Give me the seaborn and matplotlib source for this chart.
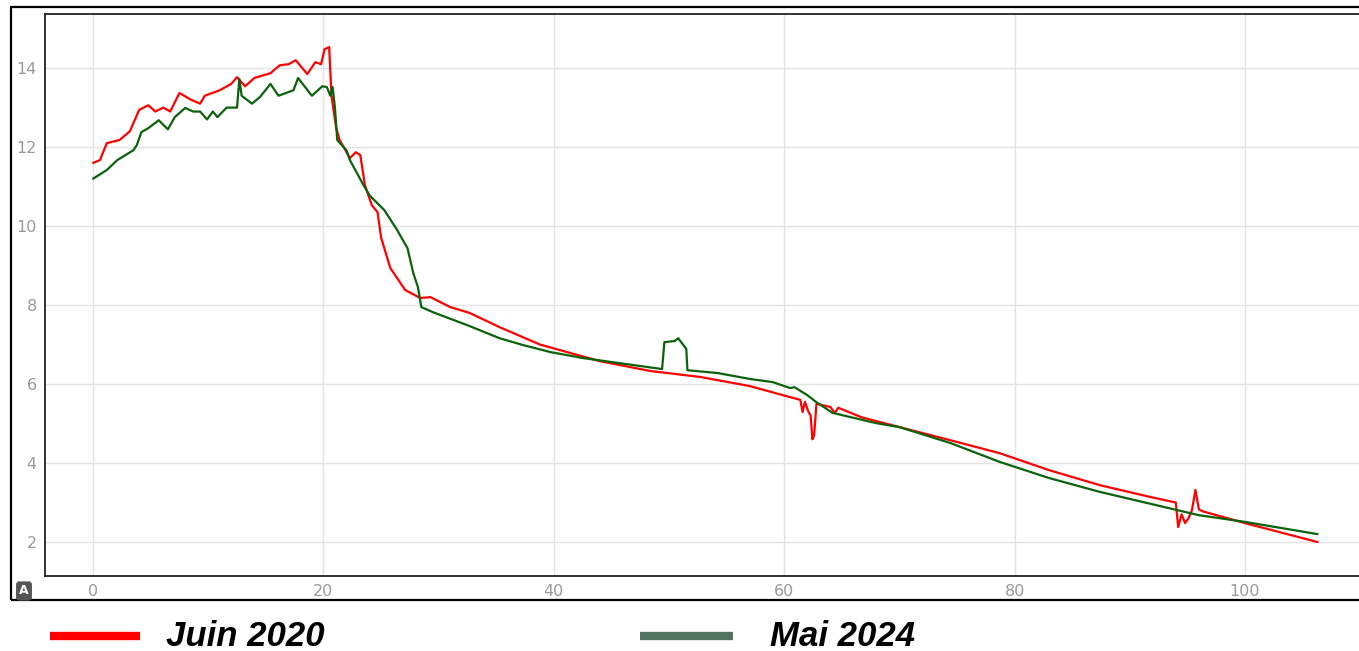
import numpy as np
import pandas as pd
import seaborn as sns
import matplotlib.pyplot as plt
from matplotlib.lines import Line2D
from matplotlib.patches import Rectangle

# -------------------------------
#  Datos
# -------------------------------
red_x = [0, 0.6, 1.2, 2.3, 3.2, 4.0, 4.8, 5.4, 6.1, 6.7, 7.5, 8.5, 9.3, 9.7, 11.0, 12.0,
         12.5, 13.2, 14.0, 15.4, 16.2, 17.0, 17.6, 18.6, 19.3, 19.8, 20.1, 20.5, 20.7, 21.1,
         21.4, 22.3, 22.8, 23.2, 23.6, 24.2, 24.7, 25.0, 25.8, 27.1, 28.4, 29.3, 31.0, 32.7,
         35.3, 38.8, 44.0, 48.4, 52.7, 57.0, 60.5, 61.4, 61.6, 61.8, 62.1, 62.3, 62.45, 62.6,
         62.8, 64.0, 64.4, 64.7, 66.7, 70.0, 74.4, 78.7, 83.0, 87.4, 91.8, 94.0, 94.2, 94.5,
         94.8, 95.1, 95.4, 95.7, 96.0, 96.3, 100.0, 106.3]
red_y = [11.6, 11.67, 12.1, 12.18, 12.4, 12.94, 13.06, 12.9, 13.0, 12.9, 13.37, 13.2, 13.1,
         13.3, 13.44, 13.6, 13.77, 13.54, 13.75, 13.87, 14.07, 14.1, 14.2, 13.85, 14.15, 14.1,
         14.48, 14.53, 13.3, 12.5, 12.18, 11.72, 11.87, 11.8, 11.04, 10.53, 10.35, 9.72, 8.94,
         8.38, 8.18, 8.2, 7.95, 7.8, 7.44, 7.0, 6.58, 6.33, 6.18, 5.95, 5.67, 5.6, 5.29, 5.55,
         5.3, 5.2, 4.6, 4.7, 5.5, 5.42, 5.27, 5.4, 5.16, 4.91, 4.58, 4.25, 3.82, 3.44, 3.14,
         3.0, 2.38, 2.7, 2.48, 2.6, 2.81, 3.32, 2.83, 2.78, 2.48, 2.0]

green_x = [0, 1.2, 2.1, 3.5, 3.8, 4.2, 4.8, 5.7, 6.5, 7.1, 8.0, 8.7, 9.3, 9.9, 10.4, 10.8,
           11.6, 12.5, 12.7, 12.9, 13.8, 14.5, 15.4, 16.1, 17.4, 17.8, 19.0, 19.9, 20.3, 20.6,
           20.8, 21.0, 21.2, 22.0, 22.3, 23.4, 24.0, 25.3, 26.4, 27.3, 27.8, 28.2, 28.5, 29.5,
           32.5, 35.3, 37.3, 39.7, 42.5, 45.7, 49.4, 49.6, 50.5, 50.8, 51.5, 51.6, 54.2, 57.0,
           59.0, 60.5, 60.9, 62.0, 62.8, 64.2, 68.0, 70.0, 74.4, 78.7, 83.0, 87.4, 94.1, 96.0,
           100.0, 106.3]
green_y = [11.2, 11.42, 11.67, 11.92, 12.05, 12.38, 12.48, 12.68, 12.45, 12.76, 12.99, 12.9,
           12.9, 12.7, 12.9, 12.76, 13.0, 13.0, 13.72, 13.3, 13.1, 13.27, 13.6, 13.3, 13.44,
           13.75, 13.3, 13.54, 13.52, 13.3, 13.52, 13.0, 12.18, 11.92, 11.67, 11.08, 10.78,
           10.4, 9.9, 9.44, 8.81, 8.46, 7.95, 7.82, 7.49, 7.16, 6.99, 6.81, 6.66, 6.53, 6.38,
           7.06, 7.09, 7.16, 6.89, 6.35, 6.28, 6.13, 6.05, 5.9, 5.92, 5.72, 5.54, 5.27, 5.01,
           4.91, 4.51, 4.03, 3.62, 3.27, 2.81, 2.68, 2.51, 2.2]

x_ticks = [0, 20, 40, 60, 80, 100]
y_ticks = [2, 4, 6, 8, 10, 12, 14]
series_labels = ["Juin 2020", "Mai 2024"]

df = pd.concat([
    pd.DataFrame({"x": red_x, "y": red_y, "serie": series_labels[0]}),
    pd.DataFrame({"x": green_x, "y": green_y, "serie": series_labels[1]}),
])

# -------------------------------
#  Figura
# -------------------------------
sns.set_style("white")
plt.rcParams["font.family"] = ["DejaVu Sans"]

fig = plt.figure(figsize=(13.59, 6.51), dpi=100)
ax = fig.add_axes([45 / 1359, 75 / 651, 1 - 45 / 1359, 562 / 651])

sns.lineplot(data=df, x="x", y="y", hue="serie", sort=False, estimator=None,
             palette={"Juin 2020": "#ff0000", "Mai 2024": "#0a620a"},
             linewidth=1.6, legend=False, ax=ax)

ax.set_xlim(-4.17, 109.9)
ax.set_ylim(1.14, 15.37)
ax.set_xticks(x_ticks)
ax.set_yticks(y_ticks)
ax.set_xlabel("")
ax.set_ylabel("")
ax.grid(True, color="#e4e4e4", linewidth=1)
ax.tick_params(length=0, labelsize=11.5, labelcolor="#9a9a9a", pad=6)
for side in ["left", "top", "bottom"]:
    ax.spines[side].set_color("#222222")
    ax.spines[side].set_linewidth(1.3)
ax.spines["right"].set_visible(False)

# Cadre extérieur
fig.add_artist(Rectangle((11 / 1359, 51 / 651), 1.0, 593 / 651, transform=fig.transFigure,
                         fill=False, edgecolor="black", linewidth=1.6))

# Petite icône "A"
fig.text(24 / 1359, (651 - 591) / 651, "A", color="white", fontsize=9, fontweight="bold",
         ha="center", va="center",
         bbox=dict(boxstyle="round,pad=0.25", facecolor="#555555", edgecolor="none"))

# Légende
leg_y = (651 - 636) / 651
fig.add_artist(Line2D([50 / 1359, 140 / 1359], [leg_y, leg_y], color="#ff0000",
                      linewidth=6, solid_capstyle="butt", transform=fig.transFigure))
fig.add_artist(Line2D([640 / 1359, 733 / 1359], [leg_y, leg_y], color="#52735f",
                      linewidth=6, solid_capstyle="butt", transform=fig.transFigure))
fig.text(166 / 1359, 5 / 651, series_labels[0], fontsize=25, fontweight="bold",
         fontstyle="italic", color="black", family=["Liberation Sans", "DejaVu Sans"],
         va="baseline")
fig.text(770 / 1359, 5 / 651, series_labels[1], fontsize=25, fontweight="bold",
         fontstyle="italic", color="black", family=["Liberation Sans", "DejaVu Sans"],
         va="baseline")

fig.savefig("out.png", dpi=100)
